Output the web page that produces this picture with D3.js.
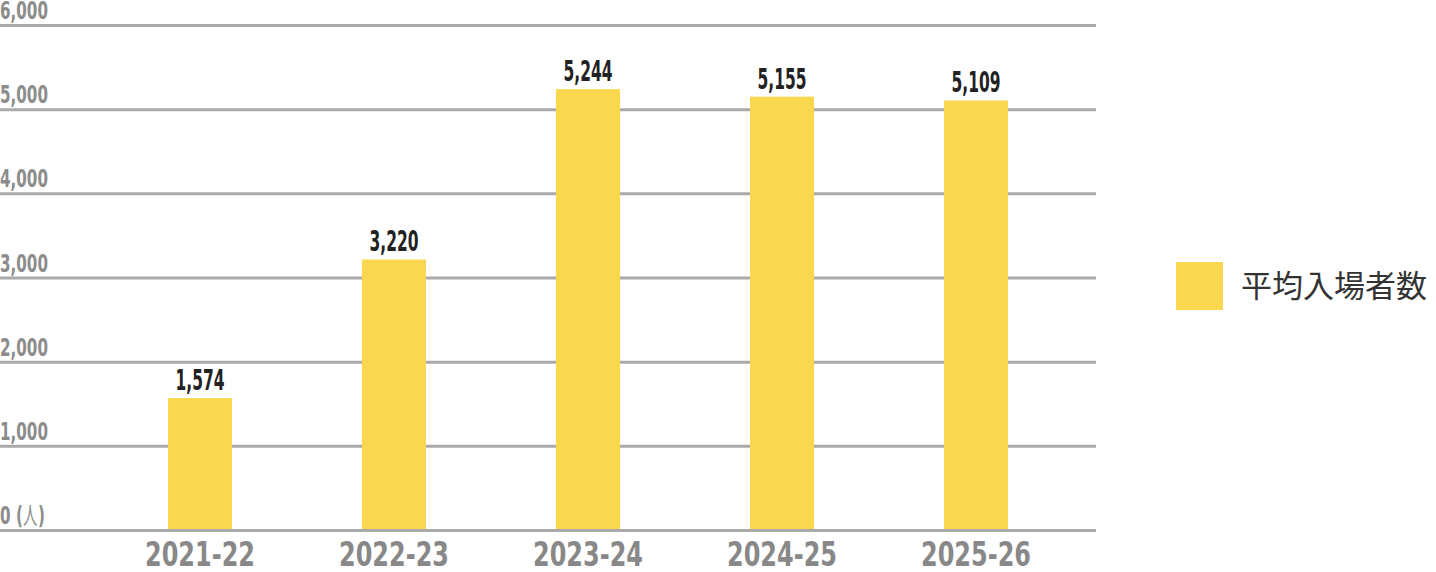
<!DOCTYPE html>
<html>
<head>
<meta charset="utf-8">
<script src="https://cdn.jsdelivr.net/npm/d3@7"></script>
<style>
  body { margin: 0; background: #fff; }
  .num { font-family: "DejaVu Sans", sans-serif; }
  .jp { font-family: "Noto Sans CJK JP", sans-serif; }
</style>
</head>
<body>
<svg></svg>
<script>
var seasons = ['2021-22', '2022-23', '2023-24', '2024-25', '2025-26'];
var attendance = [1574, 3220, 5244, 5155, 5109];
var yTicks = [0, 1000, 2000, 3000, 4000, 5000, 6000];
var seriesName = '平均入場者数';

var width = 1436;
var height = 572;
var barColor = '#f9d84f';
var gridColor = '#aaaaaa';

var svg = d3.select('svg')
	.attr('width', width)
	.attr('height', height);

var y = d3.scaleLinear()
	.domain([0, 6000])
	.range([530.5, 25.5]);

var x = d3.scaleBand()
	.domain(seasons)
	.range([103, 1073]);

var barW = 64;

// squeeze texts horizontally so the sample text gets the wanted width
function squeeze(sel, sample, wanted) {
	var node = sel.filter(function() { return this.textContent === sample; }).node();
	var sx = wanted / node.getComputedTextLength();
	sel.each(function() {
		var t = d3.select(this);
		var tx = +t.attr('x'), ty = +t.attr('y');
		t.attr('x', 0).attr('y', 0)
			.attr('transform', `translate(${tx},${ty}) scale(${sx},1)`);
	});
}

// gridlines
svg.append('g')
	.selectAll('line')
	.data(yTicks)
	.join('line')
	.attr('x1', 0)
	.attr('x2', 1096)
	.attr('y1', d => y(d))
	.attr('y2', d => y(d))
	.attr('stroke', gridColor)
	.attr('stroke-width', 3);

// y tick labels
var fmt = d3.format(',');
var tickLabels = svg.append('g')
	.selectAll('text')
	.data(yTicks)
	.join('text')
	.attr('class', 'num')
	.attr('x', 0)
	.attr('y', d => y(d) - 6.5)
	.attr('fill', '#8c8c8c')
	.attr('font-size', 25)
	.attr('font-weight', 'bold')
	.text(d => fmt(d));

squeeze(tickLabels, '6,000', 48);

// unit mark after the zero
var unit = tickLabels.filter(d => d === 0);
unit.append('tspan')
	.attr('dx', 9)
	.text('(');
unit.append('tspan')
	.attr('class', 'jp')
	.attr('font-weight', 'normal')
	.attr('font-size', 24)
	.text('人');
unit.append('tspan')
	.attr('dx', 1)
	.text(')');

// bars
svg.append('g')
	.selectAll('rect')
	.data(attendance)
	.join('rect')
	.attr('x', (d, i) => x(seasons[i]) + x.bandwidth() / 2 - barW / 2)
	.attr('width', barW)
	.attr('y', d => y(d))
	.attr('height', d => y(0) - 1.5 - y(d))
	.attr('fill', barColor);

// value labels
var valueLabels = svg.append('g')
	.selectAll('text')
	.data(attendance)
	.join('text')
	.attr('class', 'num')
	.attr('x', (d, i) => x(seasons[i]) + x.bandwidth() / 2)
	.attr('y', d => y(d) - 8)
	.attr('text-anchor', 'middle')
	.attr('fill', '#222')
	.attr('font-size', 27.5)
	.attr('font-weight', 'bold')
	.text(d => fmt(d));

squeeze(valueLabels, '1,574', 49);

// category labels
var catLabels = svg.append('g')
	.selectAll('text')
	.data(seasons)
	.join('text')
	.attr('class', 'num')
	.attr('x', d => x(d) + x.bandwidth() / 2)
	.attr('y', 566)
	.attr('text-anchor', 'middle')
	.attr('fill', '#888')
	.attr('font-size', 34.5)
	.attr('font-weight', 'bold')
	.text(d => d);

squeeze(catLabels, '2021-22', 110);

// legend
var legend = svg.append('g');
legend.append('rect')
	.attr('x', 1176)
	.attr('y', 262)
	.attr('width', 47)
	.attr('height', 48)
	.attr('fill', barColor);
legend.append('text')
	.attr('class', 'jp')
	.attr('x', 1241)
	.attr('y', 297)
	.attr('fill', '#333')
	.attr('font-size', 31)
	.text(seriesName);
</script>
</body>
</html>
